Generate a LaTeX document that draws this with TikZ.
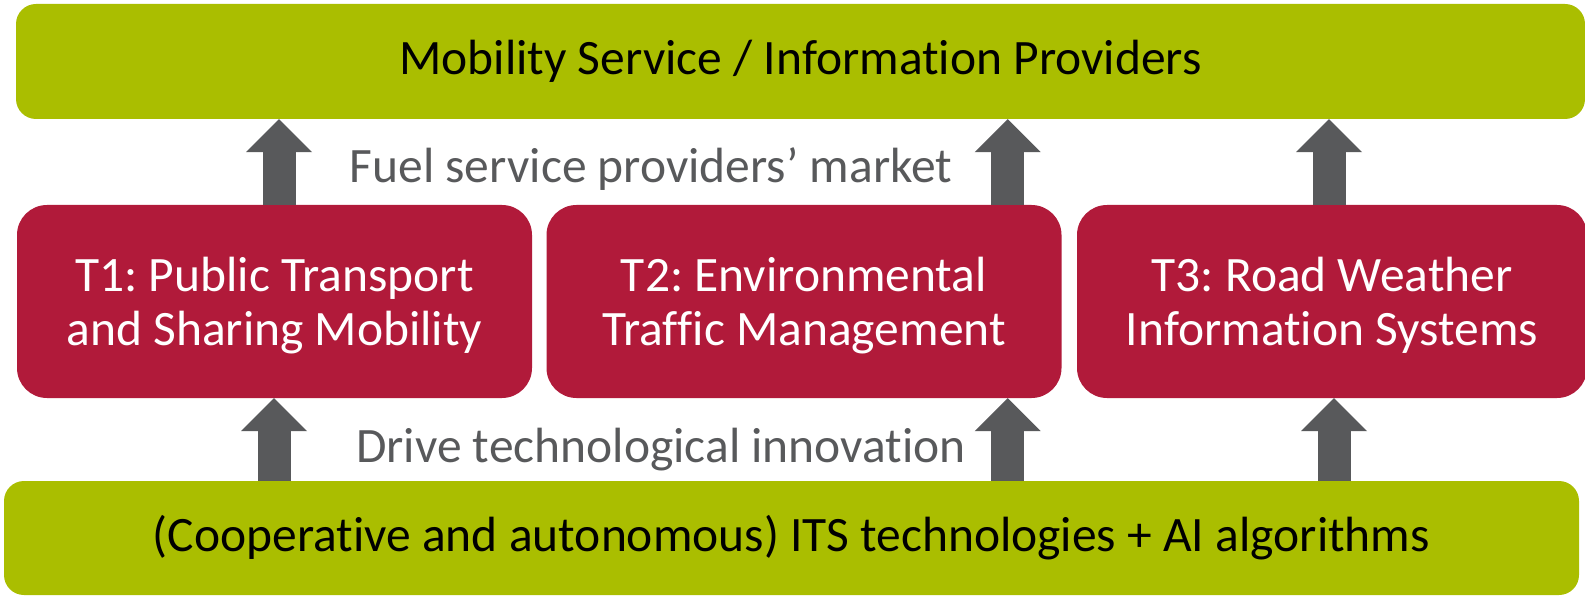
\documentclass[tikz,border=0pt]{standalone}
\usepackage{xcolor}
\usepackage{fontspec}
\setmainfont{Carlito}[Ligatures=NoCommon]
\frenchspacing
\usetikzlibrary{arrows.meta}

\definecolor{itsgreen}{HTML}{AABE00}
\definecolor{itsred}{HTML}{B11A3A}
\definecolor{itsgray}{HTML}{58595B}

\tikzset{
    layer/.style={fill=itsgreen, rounded corners=20pt, minimum height=115pt, inner sep=0pt, text=black, font=\fontsize{49.5}{56}\selectfont},
    topic/.style={fill=itsred, rounded corners=30pt, minimum width=515pt, minimum height=193pt, inner sep=0pt, align=center, text=white, font=\fontsize{49.5}{54}\selectfont, text height=99pt, text depth=12pt},
    uparrow/.style={draw=itsgray, line width=33pt, -{Triangle[width=66pt, length=33pt, line width=0pt]}},
    note/.style={anchor=base, inner sep=0pt, text=itsgray, font=\fontsize{49.5}{56}\selectfont}
}

\begin{document}
\begin{tikzpicture}[x=1pt, y=-1pt]
    \useasboundingbox (0,0) rectangle (1585,596);
    \node[layer, minimum width=1569pt] (msp) at (800.5,61.5) {Mobility Service / Information Providers};
    \node[topic] (t1) at (274.5,301.5) {T1: Public Transport\\and Sharing Mobility};
    \node[topic] (t2) at (804,301.5) {T2: Environmental\\Traffic Management};
    \node[topic, minimum width=510pt] (t3) at (1332,301.5) {T3: Road Weather\\Information Systems};
    \node[layer, minimum width=1575pt, minimum height=114pt] (its) at (791.5,538) {(Cooperative and autonomous) ITS technologies + AI algorithms};
    \node[note] (fuel) at (651,183) {Fuel service providers’ market};
    \node[note] (drive) at (661,462) {Drive technological innovation};

    % arrows up to the providers
    \path ([xshift=4.5pt]t1.north) coordinate (u1)
          ([xshift=-54pt]t2.north east) coordinate (u2)
          ([xshift=-3pt]t3.north) coordinate (u3);
    \foreach \i in {1,2,3}
        \draw[uparrow] (u\i) -- (u\i |- msp.south);

    % arrows up from the technologies
    \path ([xshift=-0.5pt]t1.south) coordinate (d1)
          ([xshift=-54pt]t2.south east) coordinate (d2)
          ([xshift=2pt]t3.south) coordinate (d3);
    \foreach \i in {1,2,3}
        \draw[uparrow] (d\i |- its.north) -- (d\i);
\end{tikzpicture}
\end{document}
